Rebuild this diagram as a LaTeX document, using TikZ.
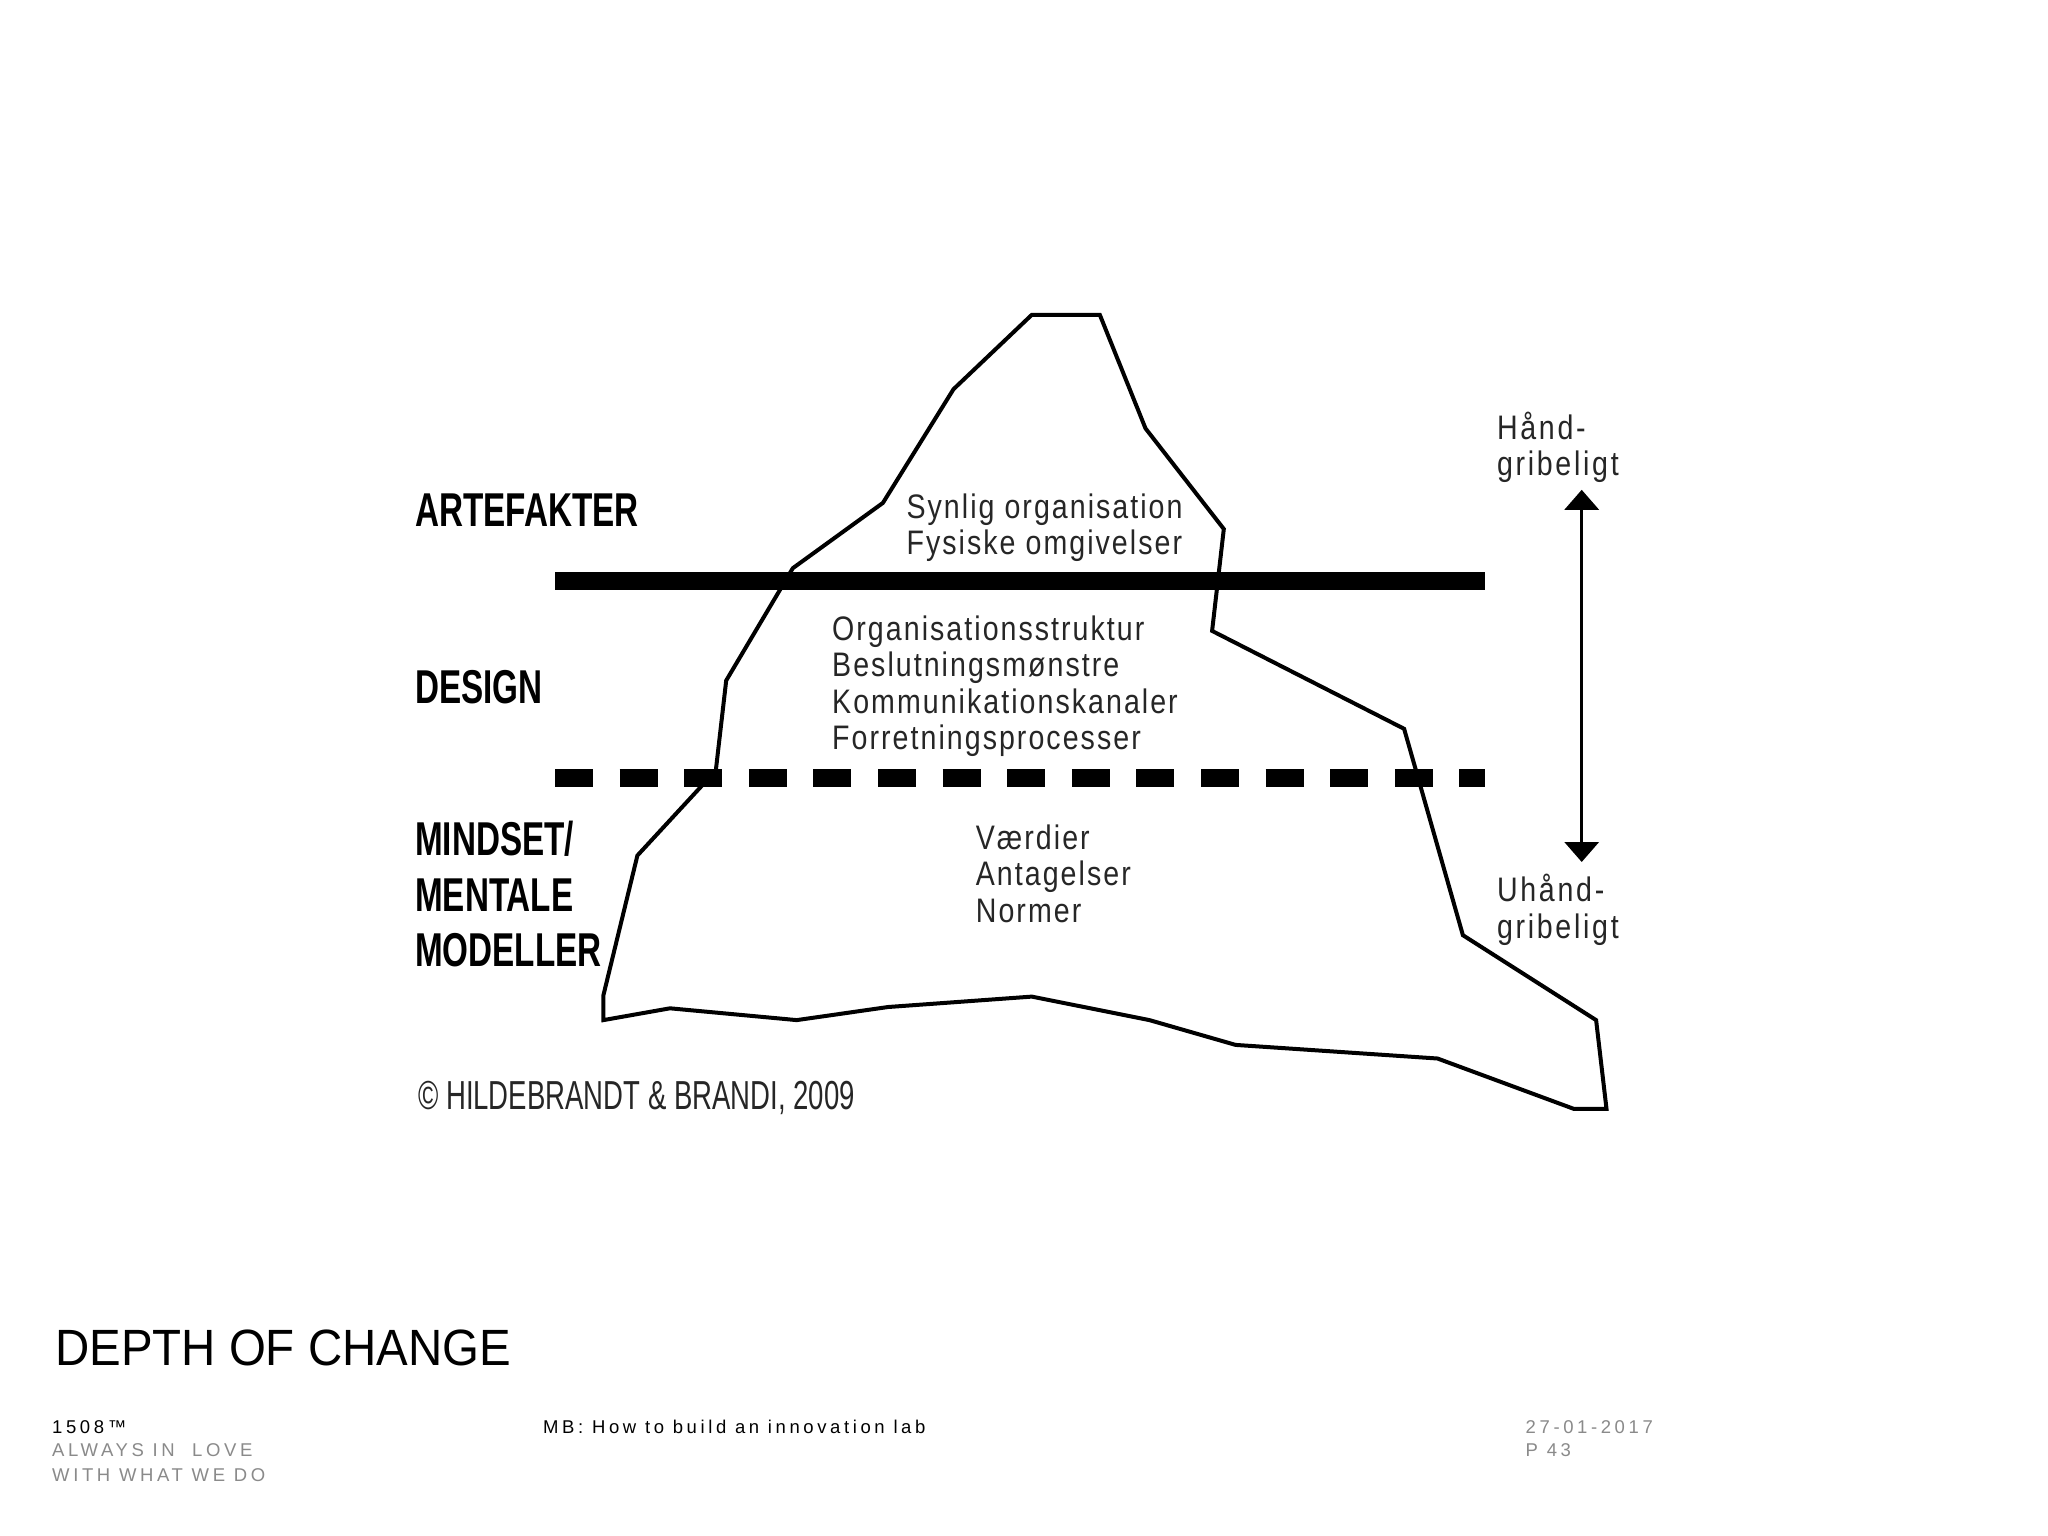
\documentclass[tikz,border=0pt]{standalone}
\usepackage{fontspec}
\setmainfont{Liberation Sans}
\newfontfamily\labfont[FakeStretch=0.7]{Liberation Sans}
\newfontfamily\bodyfont[FakeStretch=0.84,LetterSpace=6]{Liberation Sans}
\newfontfamily\sidefont[FakeStretch=0.84,LetterSpace=8]{Liberation Sans}
\newfontfamily\copyfont[FakeStretch=0.68]{Liberation Sans}
\newfontfamily\titlefont[FakeStretch=0.93]{Liberation Sans}
\newfontfamily\footfont[LetterSpace=19.5]{Liberation Sans}
\usetikzlibrary{arrows.meta}
\definecolor{footgray}{HTML}{8A8A8A}
\begin{document}
\begin{tikzpicture}[x=1pt,y=-1pt,
  txt/.style={anchor=base west,inner sep=0pt},
  lab/.style={txt,font=\labfont\bfseries\fontsize{47.5}{47.5}\selectfont},
  body/.style={txt,font=\bodyfont\fontsize{34}{34}\selectfont,text=black!85},
  side/.style={txt,font=\sidefont\fontsize{34}{34}\selectfont,text=black!85},
  foot/.style={txt,font=\footfont\fontsize{18.5}{18.5}\selectfont},
  berg/.style={line width=4pt,line join=miter},
  bar/.style={line width=18pt}]
\fill[white] (0,0) rectangle (2048,1536);
\useasboundingbox (0,0) rectangle (2048,1536);

% iceberg
\draw[berg] (1031.8,314.8) -- (1099.8,314.8) -- (1145.5,428.4) -- (1223.8,529.0)
  -- (1212.1,630.9) -- (1404.1,728.8) -- (1462.9,935.2) -- (1596.1,1020.1)
  -- (1606.5,1108.9) -- (1573.9,1108.9) -- (1437.5,1058.5) -- (1235.6,1044.9)
  -- (1149.4,1020.1) -- (1031.8,996.6) -- (888.2,1007.0) -- (796.7,1020.1)
  -- (670.0,1008.3) -- (603.4,1020.1) -- (603.4,995.3) -- (637.4,855.5)
  -- (715.8,770.6) -- (726.2,680.5) -- (792.8,568.2) -- (882.9,502.9)
  -- (953.5,389.2) -- cycle;

% level lines
\coordinate (sl) at (555,581);
\coordinate (sr) at (1485,581);
\draw[bar] (sl) -- (sr);
\coordinate (dl) at (555,778);
\coordinate (dr) at (1485,778);
\draw[bar,dash pattern=on 38pt off 26.6pt] (dl) -- (dr);

% arrow
\coordinate (atop) at (1581.7,489.8);
\coordinate (abot) at (1581.7,862);
\draw[line width=3.5pt,{Triangle[width=34pt,length=20pt]}-{Triangle[width=34pt,length=20pt]}] (atop) -- (abot);

% left labels
\node[lab] (art) at (415,526) {ARTEFAKTER};
\node[lab] (des) at (415,703) {DESIGN};
\node[lab] (mi1) at (415,855.5) {MINDSET/};
\node[lab] (mi2) at (415,911.7) {MENTALE};
\node[lab] (mi3) at (415,966.5) {MODELLER};

% iceberg texts
\node[body] (a1) at (906.4,518) {Synlig organisation};
\node[body] (a2) at (906.4,554.6) {Fysiske omgivelser};
\node[body] (d1) at (832,640) {Organisationsstruktur};
\node[body] (d2) at (832,676.6) {Beslutningsmønstre};
\node[body] (d3) at (832,713.2) {Kommunikationskanaler};
\node[body] (d4) at (832,749.8) {Forretningsprocesser};
\node[body] (m1) at (975.7,849) {Værdier};
\node[body] (m2) at (975.7,885.6) {Antagelser};
\node[body] (m3) at (975.7,922.2) {Normer};

% side labels
\node[side] (h1) at (1496.8,439) {Hånd-};
\node[side] (h2) at (1496.8,475.6) {gribeligt};
\node[side] (u1) at (1496.8,901.5) {Uhånd-};
\node[side] (u2) at (1496.8,938.1) {gribeligt};

% copyright
\node[txt,font=\copyfont\fontsize{40.5}{40.5}\selectfont,text=black!85] (copy) at (418,1109) {© HILDEBRANDT \& BRANDI, 2009};

% footer
\node[txt,font=\titlefont\fontsize{51}{51}\selectfont] (title) at (55,1365) {DEPTH OF CHANGE};
\node[foot] (f1) at (52,1433) {1508™};
\node[foot,text=footgray] (f2) at (52,1456.5) {ALWAYS IN\ \ LOVE};
\node[foot,text=footgray] (f3) at (52,1481) {WITH WHAT WE DO};
\node[foot] (f4) at (543,1433) {MB: How to build an innovation lab};
\node[foot,text=footgray] (f5) at (1525.5,1433) {27-01-2017};
\node[foot,text=footgray] (f6) at (1525.5,1456.5) {P 43};
\end{tikzpicture}
\end{document}
